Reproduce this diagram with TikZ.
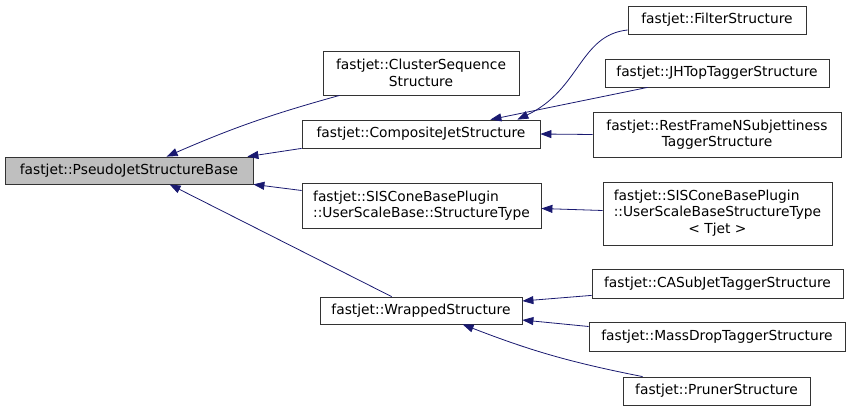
\documentclass[tikz,border=0pt]{standalone}
\usepackage{fontspec}
\setmainfont{DejaVu Sans}
\usepackage{tikz}
\usetikzlibrary{arrows.meta, positioning, calc}
\usepackage{xcolor}
\definecolor{edgeblue}{RGB}{25,25,112}
\definecolor{basegray}{RGB}{191,191,191}

\begin{document}
\begin{tikzpicture}[x=1pt, y=1pt,
        cls/.style={draw=black!80, line width=0.8pt, fill=white, inner sep=0pt, font=\fontsize{13.8}{16.6}\selectfont},
        inh/.style={draw=edgeblue, line width=0.8pt, {Triangle[length=11pt,width=8pt,fill=edgeblue]}-}]
        \useasboundingbox (0,0) rectangle (851,-411);

        % Base class
        \node[cls, fill=basegray, minimum width=248pt, minimum height=27pt] (base) at (129,-170.5) {fastjet::PseudoJetStructureBase};

        % Direct subclasses
        \node[cls, align=center, minimum width=196pt, minimum height=44pt] (csq) at (421,-73) {fastjet::ClusterSequence\\Structure};
        \node[cls, minimum width=238pt, minimum height=28pt] (comp) at (421,-134) {fastjet::CompositeJetStructure};
        \node[cls, align=left, minimum width=239pt, minimum height=45pt] (sis) at (421.5,-205.5) {fastjet::SISConeBasePlugin\\::UserScaleBase::StructureType};
        \node[cls, minimum width=202pt, minimum height=27pt] (wrap) at (421,-310.5) {fastjet::WrappedStructure};

        % Subclasses of the composite structure
        \node[cls, minimum width=178pt, minimum height=28pt] (filt) at (717,-20) {fastjet::FilterStructure};
        \node[cls, minimum width=224pt, minimum height=28pt] (jht) at (717,-73) {fastjet::JHTopTaggerStructure};
        \node[cls, align=center, minimum width=248pt, minimum height=45pt] (rest) at (717,-134.5) {fastjet::RestFrameNSubjettiness\\TaggerStructure};

        % Templated structure type
        \node[cls, minimum width=229pt, minimum height=63pt] (sist) at (717.5,-213.5) {\begin{tabular}{@{}l@{}}fastjet::SISConeBasePlugin\\::UserScaleBaseStructureType\\\multicolumn{1}{@{}c@{}}{< Tjet >}\end{tabular}};

        % Subclasses of the wrapped structure
        \node[cls, minimum width=251pt, minimum height=29pt] (casj) at (717.5,-283.5) {fastjet::CASubJetTaggerStructure};
        \node[cls, minimum width=256pt, minimum height=29pt] (mdt) at (717,-336.5) {fastjet::MassDropTaggerStructure};
        \node[cls, minimum width=187pt, minimum height=28pt] (prun) at (716.5,-391) {fastjet::PrunerStructure};

        % Inheritance arrows
        \draw[inh] ([xshift=162pt]base.north west) to[bend left=4] ([xshift=17pt]csq.south west);
        \draw[inh] ([xshift=-6pt]base.north east) -- (comp.south west);
        \draw[inh] (base.south east) -- ([yshift=15pt]sis.west);
        \draw[inh] ([xshift=165pt]base.south west) -- ([xshift=72pt]wrap.north west);

        \draw[inh] ([xshift=-23pt]comp.north east) .. controls +(63,30) and +(-48,-5) .. ([yshift=-10pt]filt.west);
        \draw[inh] ([xshift=-50pt]comp.north east) -- ([xshift=43pt]jht.south west);
        \draw[inh] (comp.east) -- (rest.west);
        \draw[inh] ([yshift=-3pt]sis.east) -- ([yshift=3pt]sist.west);

        \draw[inh] ([yshift=9.5pt]wrap.east) -- ([yshift=3pt]casj.south west);
        \draw[inh] ([yshift=-9.5pt]wrap.east) -- ([yshift=10pt]mdt.west);
        \draw[inh] ([xshift=143pt]wrap.south west) to[bend right=5] ([xshift=20pt]prun.north west);
    \end{tikzpicture}
\end{document}
